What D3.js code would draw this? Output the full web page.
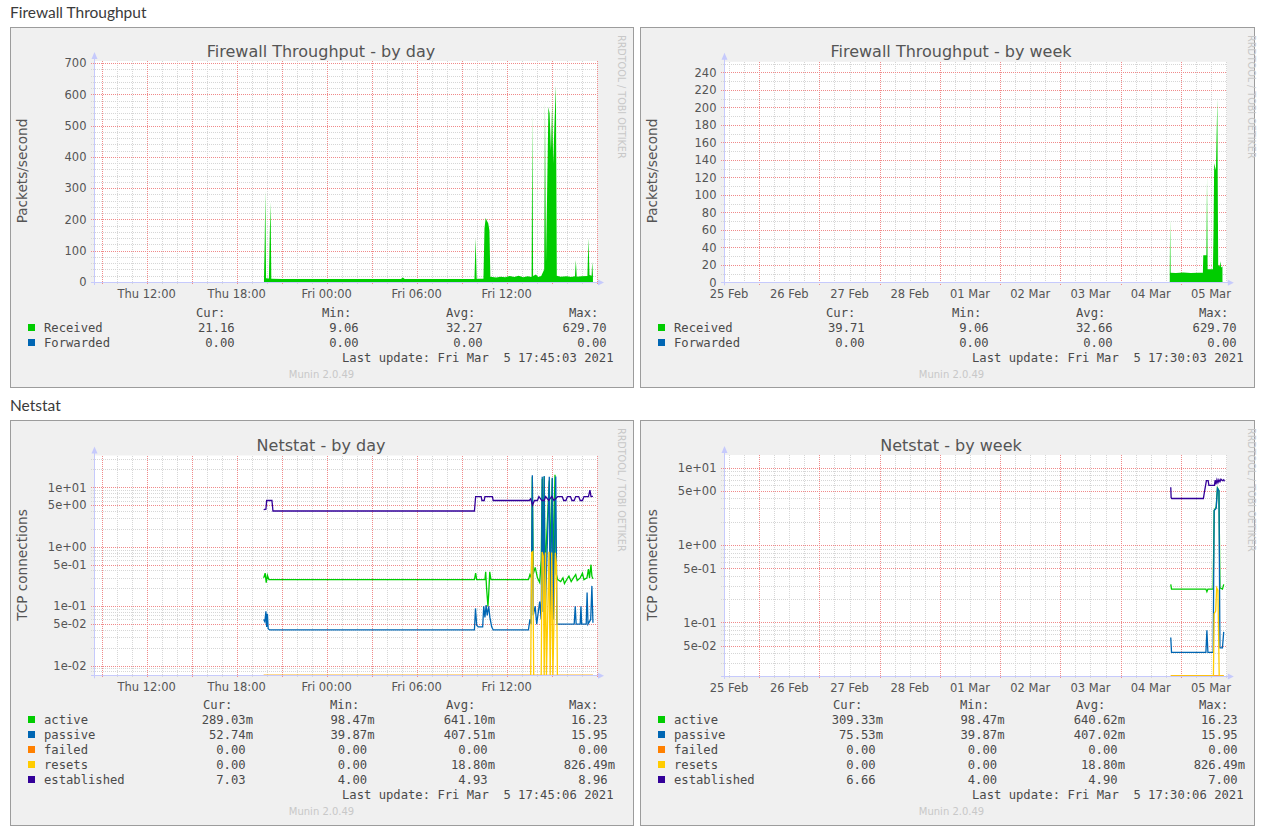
<!DOCTYPE html>
<html>
<head>
<meta charset="utf-8">
<script src="https://cdn.jsdelivr.net/npm/d3@7"></script>
<style>
  body { margin: 0; background: #fff; }
  svg { display: block; }
  .sect { font-family: Lato, "Open Sans", sans-serif; font-size: 15.5px; fill: #3a3a3a; }
  .gtitle { font-family: "DejaVu Sans", sans-serif; font-size: 16px; fill: #555; }
  .tick { font-family: "DejaVu Sans", sans-serif; font-size: 11.5px; fill: #555; }
  .vlabel { font-family: "DejaVu Sans", sans-serif; font-size: 13.6px; fill: #555; }
  .legend { font-family: "DejaVu Sans Mono", monospace; font-size: 12.2px; fill: #4a4a4a; white-space: pre; }
  .credit { font-family: "DejaVu Sans", sans-serif; font-size: 9.6px; fill: #c8c8c8; }
  .munin { font-family: "DejaVu Sans", sans-serif; font-size: 10px; fill: #c8c8c8; }
</style>
</head>
<body>
<svg width="1265" height="834"></svg>
<script>
// all times are hours since Thu 4 Mar 2021 00:00
const base = new Date(2021, 2, 4);
const at = h => new Date(base.getTime() + h * 3600e3);

// Firewall throughput (packets/second)
const receivedDay = [[19.82, 10], [19.87, 130], [19.91, 292], [19.96, 12], [20.15, 11], [20.21, 160], [20.26, 255], [20.31, 10.5],
  [21.0, 9.6], [22.0, 9.2], [23.0, 9.8], [24.0, 9.4], [25.0, 9.9], [26.0, 9.3], [27.0, 9.6], [28.0, 9.2], [28.95, 9.7], [29.08, 14],
  [29.2, 9.5], [30.0, 9.3], [31.0, 9.8], [32.0, 9.4], [33.0, 9.7], [33.85, 9.6], [33.93, 141], [34.0, 10], [34.45, 10.5], [34.52, 172],
  [34.6, 205], [34.68, 196], [34.77, 188], [34.85, 165], [34.91, 17], [35.3, 14], [35.6, 17], [35.9, 15], [36.2, 19], [36.5, 16],
  [36.8, 20], [37.1, 15], [37.4, 18], [37.66, 16], [37.71, 540], [37.76, 19], [37.95, 24], [38.1, 16], [38.3, 19], [38.5, 40],
  [38.55, 575], [38.62, 60], [38.7, 300], [38.78, 560], [38.86, 540], [38.95, 420], [39.03, 570], [39.1, 380], [39.18, 500],
  [39.28, 629.7], [39.34, 20], [39.6, 17], [40.0, 18], [40.3, 16], [40.55, 18], [40.61, 70], [40.67, 17], [41.0, 18], [41.38, 19],
  [41.45, 140], [41.52, 22], [41.66, 20], [41.7, 65], [41.75, 21.16]];
const forwardedDay = [[19.82, 0], [41.75, 0]];
const receivedWeek = [[19.6, 11], [19.75, 73], [19.95, 11], [22, 10.5], [25, 11.2], [28, 10.6], [31, 11], [32.8, 11], [32.95, 31],
  [34.2, 31], [34.45, 121], [34.7, 15], [36.8, 15], [37.05, 60], [37.3, 136], [38.0, 128], [38.55, 210], [38.9, 20], [39.5, 18],
  [39.75, 24], [40.1, 17], [40.6, 18]];
const forwardedWeek = [[19.6, 0], [40.6, 0]];

// Netstat (TCP connections)
const activeDay = [[19.8, 0.3], [19.9, 0.36], [19.97, 0.25], [20.05, 0.33], [20.15, 0.28], [33.85, 0.28], [33.93, 0.36], [34.0, 0.28],
  [34.55, 0.28], [34.6, 0.38], [34.66, 0.2], [34.75, 0.1], [34.8, 0.16], [34.87, 0.38], [34.95, 0.28], [37.45, 0.28], [37.55, 0.34],
  [37.65, 0.3], [37.71, 15], [37.77, 0.35], [37.9, 0.45], [38.05, 0.3], [38.2, 0.25], [38.3, 0.6], [38.37, 14], [38.43, 0.5],
  [38.5, 15], [38.56, 0.4], [38.84, 13], [38.9, 0.6], [39.04, 14], [39.1, 0.4], [39.22, 16.23], [39.3, 0.35], [39.4, 0.28],
  [39.6, 0.26], [39.75, 0.3], [39.85, 0.24], [40.0, 0.28], [40.15, 0.32], [40.3, 0.26], [40.45, 0.3], [40.6, 0.34], [40.7, 0.27],
  [40.9, 0.3], [41.05, 0.36], [41.15, 0.28], [41.35, 0.3], [41.45, 0.42], [41.52, 0.3], [41.62, 0.5], [41.68, 0.32], [41.75, 0.29]];
const passiveDay = [[19.8, 0.06], [19.88, 0.055], [19.95, 0.082], [20.0, 0.045], [20.05, 0.075], [20.1, 0.042], [20.2, 0.04],
  [33.85, 0.04], [33.92, 0.092], [34.0, 0.048], [34.1, 0.045], [34.4, 0.045], [34.47, 0.1], [34.55, 0.065], [34.63, 0.105],
  [34.7, 0.07], [34.8, 0.1], [34.88, 0.065], [35.0, 0.045], [35.1, 0.04], [37.45, 0.04], [37.55, 0.06], [37.63, 0.05],
  [37.71, 15.95], [37.77, 0.07], [37.9, 0.1], [38.0, 0.05], [38.2, 0.12], [38.3, 0.06], [38.37, 15], [38.43, 0.08], [38.5, 15.5],
  [38.56, 0.06], [38.84, 15], [38.9, 0.07], [39.04, 14.5], [39.1, 0.06], [39.27, 15.2], [39.35, 0.05], [39.6, 0.05], [40.0, 0.05],
  [40.5, 0.05], [40.57, 0.1], [40.63, 0.05], [40.9, 0.05], [40.95, 0.1], [41.0, 0.05], [41.3, 0.05], [41.36, 0.17], [41.42, 0.05],
  [41.6, 0.06], [41.68, 0.22], [41.75, 0.053]];
const failedDay = [[19.8, 0], [41.75, 0]];
const resetsDay = [[19.8, 0], [37.6, 0], [37.66, 0.8], [37.74, 0.83], [37.8, 0], [38.3, 0], [38.36, 0.82], [38.44, 0.7], [38.5, 0],
  [38.58, 0.8], [38.65, 0], [38.82, 0.826], [38.9, 0], [39.0, 0.8], [39.08, 0], [39.24, 0.79], [39.32, 0.5], [39.38, 0], [41.75, 0]];
const establishedDay = [[19.8, 4.2], [19.95, 4.3], [20.0, 6], [20.35, 6], [20.42, 4], [33.85, 4], [33.93, 7], [34.3, 7], [34.35, 6],
  [34.5, 6], [34.55, 7], [35.05, 7], [35.1, 6], [37.5, 6], [37.6, 6.4], [37.72, 5], [37.85, 6], [38.05, 6], [38.15, 7], [38.35, 6],
  [38.5, 6], [38.6, 7], [38.8, 6], [39.0, 7], [39.15, 6], [39.4, 7], [39.7, 7], [39.8, 6], [39.95, 6], [40.05, 7], [40.25, 7],
  [40.35, 6], [40.5, 6], [40.6, 7], [40.8, 7], [40.9, 6], [41.05, 6], [41.15, 7], [41.45, 7], [41.55, 8.96], [41.62, 7], [41.75, 7.03]];

const activeWeek = [[20.0, 0.31], [20.3, 0.27], [34.0, 0.27], [34.4, 0.25], [34.8, 0.27], [36.9, 0.27], [37.3, 2.8], [38.1, 3.1],
  [38.6, 5.5], [39.2, 5.1], [39.6, 0.28], [40.6, 0.27], [41.1, 0.31]];
const passiveWeek = [[20.0, 0.064], [20.3, 0.041], [34.0, 0.041], [34.4, 0.079], [34.8, 0.041], [36.9, 0.041], [37.3, 2.8],
  [38.1, 3.0], [38.6, 5.4], [39.2, 5.0], [39.6, 0.047], [40.6, 0.047], [41.1, 0.0755]];
const failedWeek = [[20.0, 0], [41.1, 0]];
const resetsWeek = [[20.0, 0], [37.0, 0], [37.3, 0.13], [37.9, 0.14], [38.3, 0.28], [38.8, 0.26], [39.3, 0], [41.1, 0]];
const establishedWeek = [[20.0, 5.6], [20.15, 4.1], [20.4, 4], [33.0, 4], [33.3, 4.6], [34.2, 6.8], [34.9, 6.8], [35.2, 5.9],
  [37.4, 5.9], [37.7, 6.9], [38.0, 6.1], [38.4, 7], [38.8, 6.4], [39.2, 7], [39.6, 6.6], [40.0, 7.1], [40.6, 6.8], [41.1, 7], [41.4, 6.66]];

// ticks
const dayTicks = [12, 18, 24, 30, 36];
const weekTicks = [-156, -132, -108, -84, -60, -36, -12, 12, 36];
const fwDayTicks = [0, 100, 200, 300, 400, 500, 600, 700];
const fwWeekTicks = [0, 20, 40, 60, 80, 100, 120, 140, 160, 180, 200, 220, 240];
const netDayTicks = [0.01, 0.05, 0.1, 0.5, 1, 5, 10];
const netDayLabels = ["1e-02", "5e-02", "1e-01", "5e-01", "1e+00", "5e+00", "1e+01"];
const netWeekTicks = [0.05, 0.1, 0.5, 1, 5, 10];
const netWeekLabels = ["5e-02", "1e-01", "5e-01", "1e+00", "5e+00", "1e+01"];

// legends
const legendHead = ["Cur:", "Min:", "Avg:", "Max:"];
const fwNames = ["Received", "Forwarded"];
const fwColors = ["#00cc00", "#0066b3"];
const fwStatsDay = [["21.16", "9.06", "32.27", "629.70"], ["0.00", "0.00", "0.00", "0.00"]];
const fwStatsWeek = [["39.71", "9.06", "32.66", "629.70"], ["0.00", "0.00", "0.00", "0.00"]];
const netNames = ["active", "passive", "failed", "resets", "established"];
const netColors = ["#00cc00", "#0066b3", "#ff8000", "#ffcc00", "#330099"];
const netStatsDay = [["289.03m", "98.47m", "641.10m", "16.23"], ["52.74m", "39.87m", "407.51m", "15.95"],
  ["0.00", "0.00", "0.00", "0.00"], ["0.00", "0.00", "18.80m", "826.49m"], ["7.03", "4.00", "4.93", "8.96"]];
const netStatsWeek = [["309.33m", "98.47m", "640.62m", "16.23"], ["75.53m", "39.87m", "407.02m", "15.95"],
  ["0.00", "0.00", "0.00", "0.00"], ["0.00", "0.00", "18.80m", "826.49m"], ["6.66", "4.00", "4.90", "7.00"]];

const svg = d3.select('svg');
svg.append('rect').attr('width', 1265).attr('height', 834).attr('fill', '#fff');

svg.append('text').attr('class', 'sect').attr('x', 10).attr('y', 18).text('Firewall Throughput');
svg.append('text').attr('class', 'sect').attr('x', 10).attr('y', 411).text('Netstat');

function frame(x, y, w, h) {
  svg.append('rect').attr('x', x + 0.5).attr('y', y + 0.5).attr('width', w).attr('height', h)
    .attr('fill', '#f0f0f0').attr('stroke', '#9c9c9c');
}
frame(10, 27, 623, 360);
frame(640, 27, 614, 360);
frame(10, 420, 623, 405);
frame(640, 420, 614, 405);

const axisColor = '#c6cafc';
const px = v => Math.round(v) + 0.5;
let clipN = 0;

function graph(o) {
  const g = svg.append('g').attr('transform', `translate(${o.dx},0)`);
  const x = o.x, y = o.y;
  const [x0, x1] = x.range();
  const [yb, yt] = y.range();
  const lo = y.domain()[0];
  const yv = v => y(o.log ? Math.max(v, lo) : v);

  g.append('rect').attr('x', x0).attr('y', yt).attr('width', x1 - x0).attr('height', yb - yt).attr('fill', '#fff');

  // grid: minor first, major on top (dots snapped to whole pixels)
  const vgrid = (vals, color, ext) => g.append('g').selectAll('line').data(vals).join('line')
    .attr('x1', d => px(x(d))).attr('x2', d => px(x(d)))
    .attr('y1', Math.round(yt)).attr('y2', Math.round(yb) + ext)
    .attr('stroke', color).attr('stroke-dasharray', '1,1');
  const hgrid = (vals, color) => g.append('g').selectAll('line').data(vals).join('line')
    .attr('x1', Math.round(x0) - 3).attr('x2', Math.round(x1))
    .attr('y1', d => px(y(d))).attr('y2', d => px(y(d)))
    .attr('stroke', color).attr('stroke-dasharray', '1,1');
  vgrid(o.xMinor, '#d6d6d6', 2);
  hgrid(o.yMinor, '#d6d6d6');
  vgrid(o.xMajor, '#f08a8a', 3);
  hgrid(o.yMajor, '#f08a8a');

  // data
  const id = 'clip' + (clipN++);
  g.append('clipPath').attr('id', id).append('rect')
    .attr('x', x0).attr('y', yt - 1).attr('width', x1 - x0).attr('height', yb - yt + 2);
  const plot = g.append('g').attr('clip-path', `url(#${id})`);
  o.series.forEach(s => {
    if (s.area) {
      plot.append('path').datum(s.data)
        .attr('d', d3.area().x(d => x(at(d[0]))).y0(yb).y1(d => yv(d[1])))
        .attr('fill', s.color);
    } else {
      plot.append('path').datum(s.data)
        .attr('d', d3.line().x(d => x(at(d[0]))).y(d => yv(d[1])))
        .attr('fill', 'none').attr('stroke', s.color).attr('stroke-width', 1.3);
    }
  });

  // axes with arrows
  g.append('line').attr('x1', px(x0)).attr('x2', px(x0)).attr('y1', yb + 3).attr('y2', yt - 4)
    .attr('stroke', axisColor);
  g.append('path').attr('d', `M${x0 - 2.5},${yt - 2}L${x0 + 3.5},${yt - 2}L${x0 + 0.5},${yt - 9}Z`).attr('fill', axisColor);
  g.append('line').attr('x1', x0 - 3).attr('x2', x1 + 2).attr('y1', px(yb)).attr('y2', px(yb))
    .attr('stroke', axisColor);
  g.append('path').attr('d', `M${x1 + 1},${yb - 2.5}L${x1 + 1},${yb + 3.5}L${x1 + 7},${yb + 0.5}Z`).attr('fill', axisColor);

  // tick labels
  g.append('g').selectAll('text').data(o.yTicks).join('text')
    .attr('class', 'tick').attr('text-anchor', 'end')
    .attr('x', x0 - 7.5).attr('y', d => y(d) + 4.2)
    .text((d, i) => o.yLabels ? o.yLabels[i] : d);
  g.append('g').selectAll('text').data(o.xTicks).join('text')
    .attr('class', 'tick').attr('text-anchor', 'middle')
    .attr('x', d => x(at(d))).attr('y', yb + 16)
    .text(d => o.xFmt(at(d)));

  // titles
  g.append('text').attr('class', 'gtitle').attr('text-anchor', 'middle')
    .attr('x', 321).attr('y', o.titleY).text(o.title);
  g.append('text').attr('class', 'vlabel').attr('text-anchor', 'middle')
    .attr('transform', `translate(27,${o.vlabelY}) rotate(-90)`).text(o.vlabel);
  g.append('text').attr('class', 'credit')
    .attr('transform', `translate(617.5,${o.creditY}) rotate(90)`).text('RRDTOOL / TOBI OETIKER');

  // legend
  const L = o.legend;
  g.append('g').selectAll('text').data(legendHead).join('text')
    .attr('class', 'legend').attr('x', (d, i) => L.headX[i]).attr('y', L.y0).text(d => d);
  L.names.forEach((name, r) => {
    const yy = L.y0 + 15 * (r + 1);
    g.append('rect').attr('x', 28).attr('y', yy - 8).attr('width', 7).attr('height', 7).attr('fill', L.colors[r]);
    g.append('text').attr('class', 'legend').attr('x', 44).attr('y', yy).text(name);
    g.append('g').selectAll('text').data(L.stats[r]).join('text')
      .attr('class', 'legend').attr('text-anchor', 'end')
      .attr('x', (d, i) => L.edge[i] - (d.endsWith('m') ? 0 : 7.35))
      .attr('y', yy).text(d => d);
  });
  const yl = L.y0 + 15 * (L.names.length + 1);
  g.append('text').attr('class', 'legend').attr('text-anchor', 'end')
    .attr('x', 613.5).attr('y', yl).text('Last update: ' + L.update);
  g.append('text').attr('class', 'munin').attr('text-anchor', 'middle')
    .attr('x', 321.5).attr('y', yl + 16).text('Munin 2.0.49');
}

// scales and grids
const dayDomain = [at(8.49), at(42.02)];
const weekDomain = [at(-158.03), at(42.33)];
const xDay = () => d3.scaleTime().domain(dayDomain).range([94, 597]);
const xWeek = () => d3.scaleTime().domain(weekDomain).range([94, 596.8]);
const hours = d3.timeHour.range(dayDomain[0], dayDomain[1]);
const dayMinor = hours.filter(d => d.getHours() % 3 !== 0);
const dayMajor = hours.filter(d => d.getHours() % 3 === 0);
const quarters = d3.timeHour.every(6).range(weekDomain[0], weekDomain[1]);
const weekMinor = quarters.filter(d => d.getHours() !== 0);
const weekMajor = quarters.filter(d => d.getHours() === 0);
const fmtDay = d3.timeFormat('%a %H:%M');
const fmtWeek = d3.timeFormat('%d %b');

function logGrid(domain, steps) {
  const out = [];
  for (let e = -4; e <= 3; e++) steps.forEach(s => {
    const v = s * Math.pow(10, e);
    if (v >= domain[0] && v <= domain[1]) out.push(v);
  });
  return out;
}

const fwLegend = (stats, update) => ({
  y0: 317, names: fwNames, colors: fwColors, stats, update,
  headX: [196, 322, 446, 569], edge: [242, 366, 490, 614]
});
const netLegend = (stats, update) => ({
  y0: 709, names: netNames, colors: netColors, stats, update,
  headX: [203, 330, 446, 569], edge: [253, 374.5, 495, 615]
});

const fwDayY = d3.scaleLinear().domain([0, 707]).range([282, 61]);
graph({
  dx: 0, x: xDay(), y: fwDayY,
  xMinor: dayMinor, xMajor: dayMajor, yMinor: d3.range(20, 707, 20).filter(v => v % 100), yMajor: fwDayTicks,
  yTicks: fwDayTicks, xTicks: dayTicks, xFmt: fmtDay,
  title: 'Firewall Throughput - by day', titleY: 57, vlabel: 'Packets/second', vlabelY: 171, creditY: 35,
  series: [{ data: forwardedDay, color: fwColors[1] }, { data: receivedDay, color: fwColors[0], area: true }],
  legend: fwLegend(fwStatsDay, 'Fri Mar  5 17:45:03 2021')
});

const fwWeekY = d3.scaleLinear().domain([0, 252]).range([282.3, 61.8]);
graph({
  dx: 630, x: xWeek(), y: fwWeekY,
  xMinor: weekMinor, xMajor: weekMajor, yMinor: d3.range(10, 252, 20), yMajor: fwWeekTicks,
  yTicks: fwWeekTicks, xTicks: weekTicks, xFmt: fmtWeek,
  title: 'Firewall Throughput - by week', titleY: 57, vlabel: 'Packets/second', vlabelY: 171, creditY: 35,
  series: [{ data: forwardedWeek, color: fwColors[1] }, { data: receivedWeek, color: fwColors[0], area: true }],
  legend: fwLegend(fwStatsWeek, 'Fri Mar  5 17:30:03 2021')
});

const netDayY = d3.scaleLog().domain([0.0069, 34.3]).range([675.3, 455.5]).clamp(true);
const netDaySeries = [activeDay, passiveDay, failedDay, resetsDay, establishedDay];
graph({
  dx: 0, x: xDay(), y: netDayY, log: true,
  xMinor: dayMinor, xMajor: dayMajor,
  yMinor: logGrid(netDayY.domain(), [2, 3, 4, 6, 7, 8, 9]), yMajor: logGrid(netDayY.domain(), [1, 5]),
  yTicks: netDayTicks, yLabels: netDayLabels, xTicks: dayTicks, xFmt: fmtDay,
  title: 'Netstat - by day', titleY: 450.5, vlabel: 'TCP connections', vlabelY: 565, creditY: 428,
  series: netDaySeries.map((d, i) => ({ data: d, color: netColors[i] })),
  legend: netLegend(netStatsDay, 'Fri Mar  5 17:45:06 2021')
});

const netWeekY = d3.scaleLog().domain([0.0203, 14.6]).range([676, 455]).clamp(true);
const netWeekSeries = [activeWeek, passiveWeek, failedWeek, resetsWeek, establishedWeek];
graph({
  dx: 630, x: xWeek(), y: netWeekY, log: true,
  xMinor: weekMinor, xMajor: weekMajor,
  yMinor: logGrid(netWeekY.domain(), [2, 3, 4, 6, 7, 8, 9]), yMajor: logGrid(netWeekY.domain(), [1, 5]),
  yTicks: netWeekTicks, yLabels: netWeekLabels, xTicks: weekTicks, xFmt: fmtWeek,
  title: 'Netstat - by week', titleY: 450.5, vlabel: 'TCP connections', vlabelY: 565, creditY: 428,
  series: netWeekSeries.map((d, i) => ({ data: d, color: netColors[i] })),
  legend: netLegend(netStatsWeek, 'Fri Mar  5 17:30:06 2021')
});
</script>
</body>
</html>
